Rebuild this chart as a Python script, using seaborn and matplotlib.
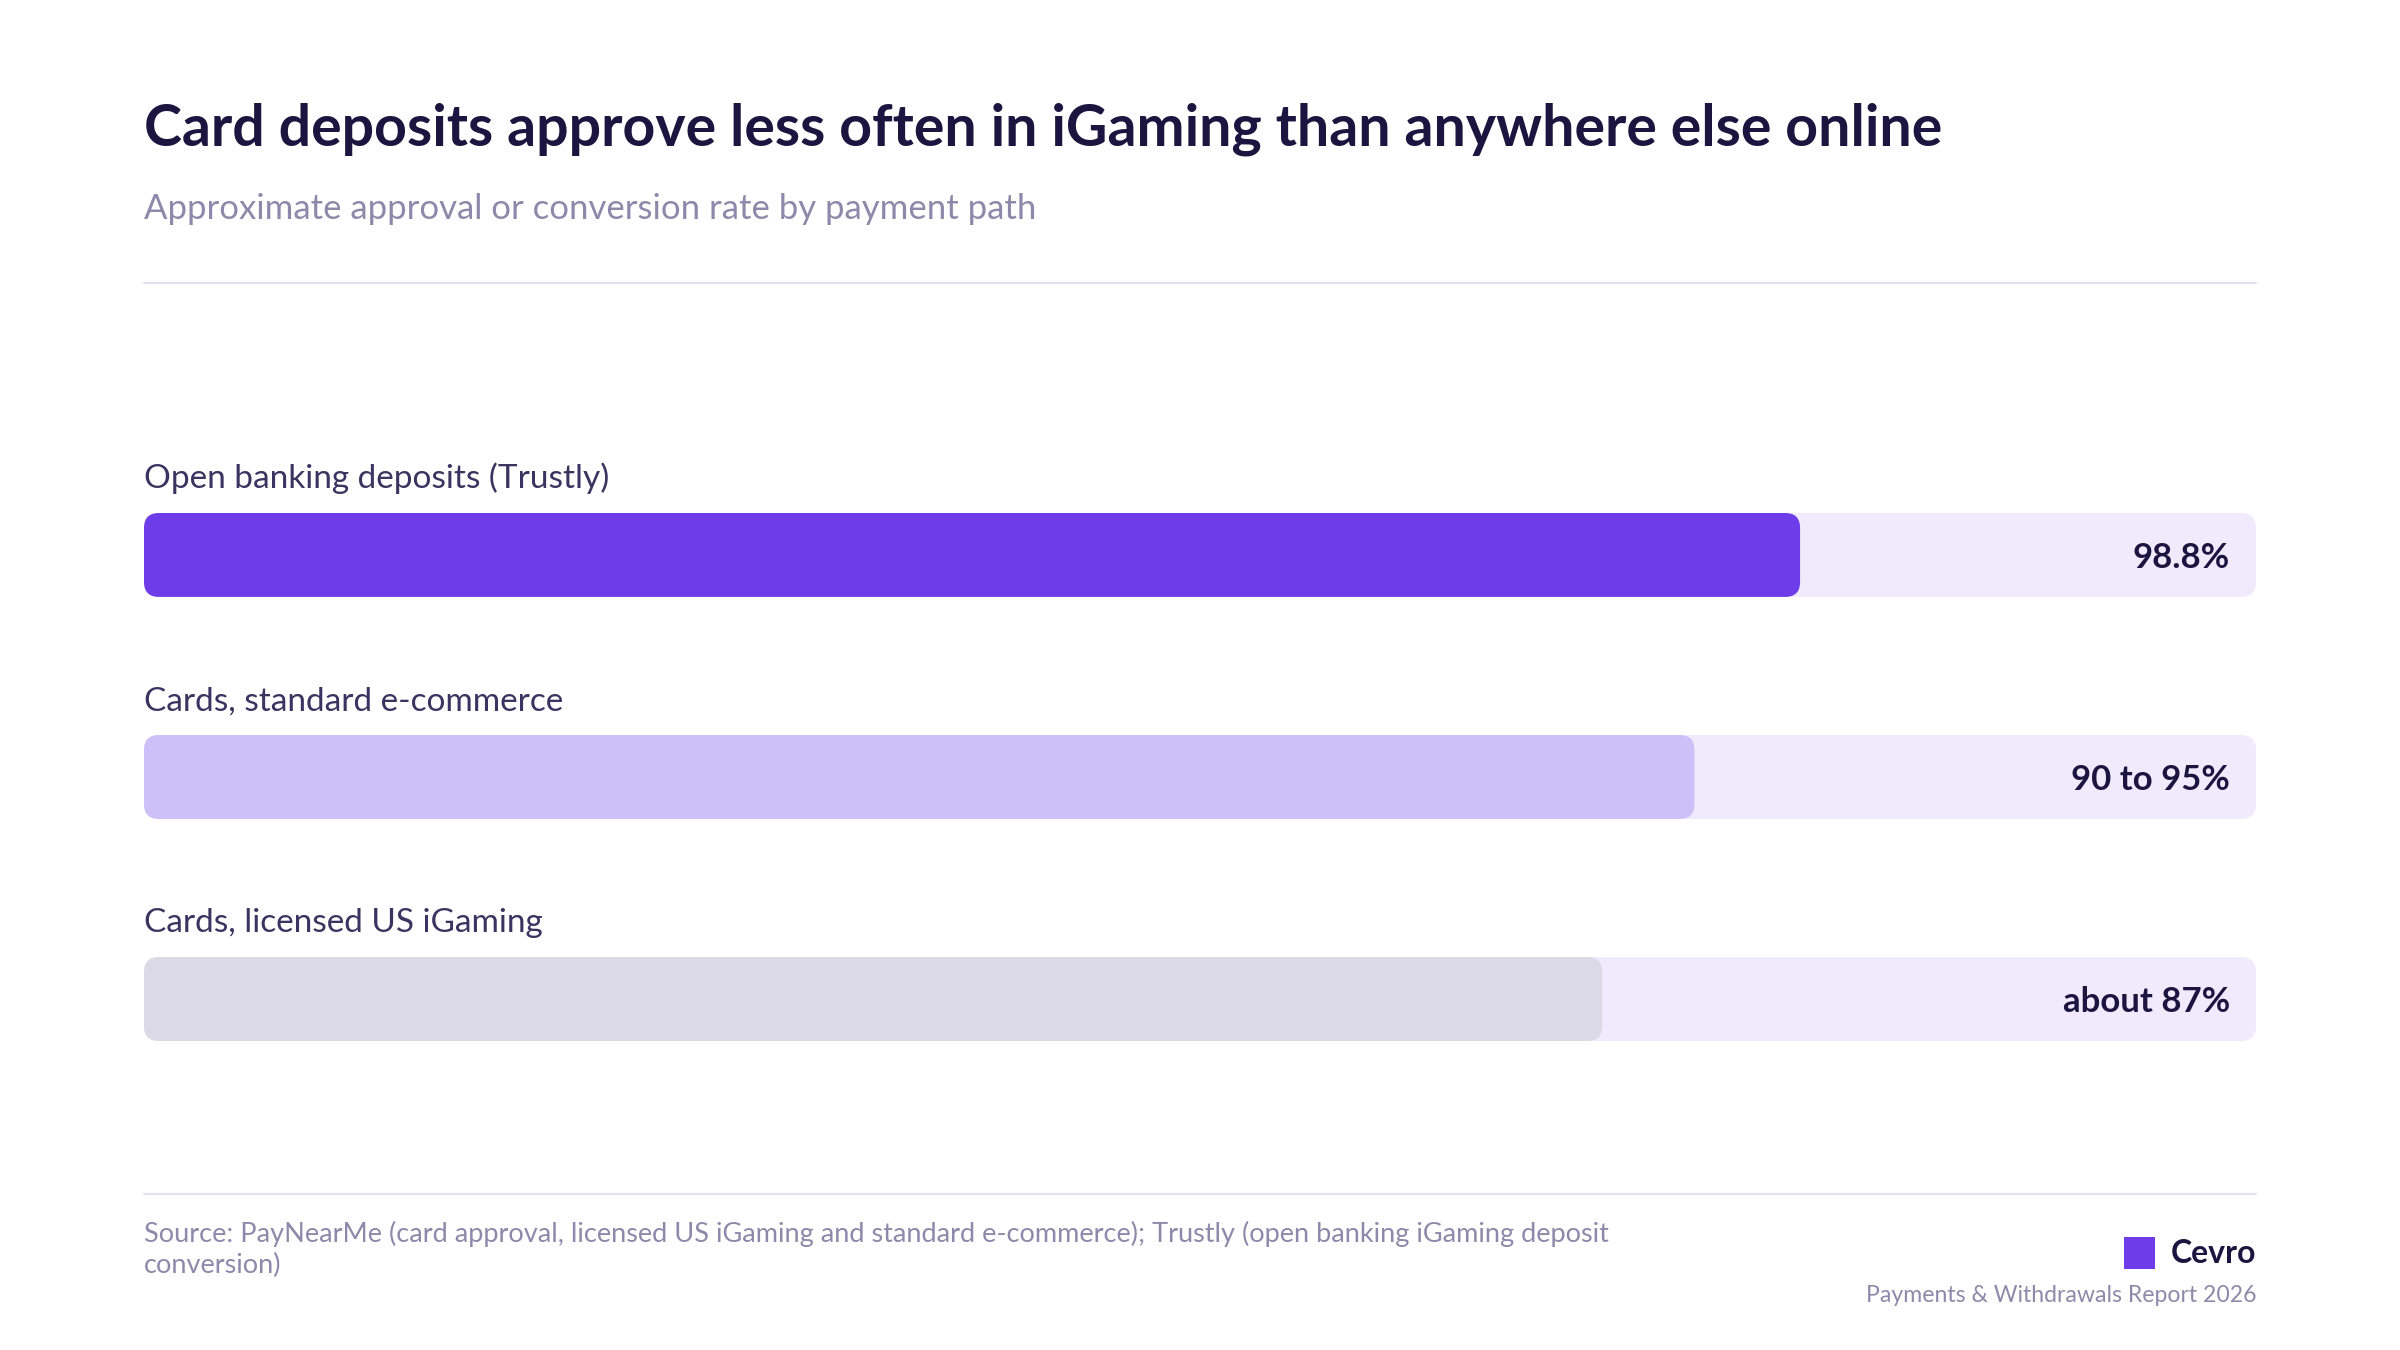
import matplotlib
matplotlib.use("Agg")
import matplotlib.pyplot as plt
import seaborn as sns
import pandas as pd
from matplotlib.patches import FancyBboxPatch, Rectangle
from matplotlib.lines import Line2D

# ---- data ----
categories = ["Open banking deposits (Trustly)", "Cards, standard e-commerce", "Cards, licensed US iGaming"]
values = [98.8, 92.5, 87.0]
value_labels = ["98.8%", "90 to 95%", "about 87%"]
scale_max = 126.0

title = "Card deposits approve less often in iGaming than anywhere else online"
subtitle = "Approximate approval or conversion rate by payment path"
source = ("Source: PayNearMe (card approval, licensed US iGaming and standard e-commerce); Trustly (open banking iGaming deposit\n"
          "conversion)")

fill_colors = ["#6e3ce9", "#cdbff7", "#dcd9e7"]
track_color = "#efebfc"
title_color = "#1c1540"
label_color = "#3b3360"
muted_color = "#8e89aa"
rule_color = "#e4e2ef"

sns.set_theme(style="white")
plt.rcParams["font.family"] = ["Lato", "DejaVu Sans"]

W, H, DPI = 2400, 1350, 200
fig = plt.figure(figsize=(W / DPI, H / DPI), dpi=DPI)
fig.patch.set_facecolor("white")

def fx(x):
    return x / W

def fy(y):
    return 1 - y / H

# axes geometry (pixels)
ax_l, ax_r, ax_t, ax_b = 144, 2256, 513, 1041
ax = fig.add_axes([fx(ax_l), fy(ax_b), (ax_r - ax_l) / W, (ax_b - ax_t) / H])
ax.set_facecolor("white")

bar_w = 0.378
df = pd.DataFrame({"cat": categories, "val": values, "track": [scale_max] * len(categories)})

sns.barplot(data=df, x="track", y="cat", orient="h", color=track_color, width=bar_w,
            ax=ax, saturation=1)
sns.barplot(data=df, x="val", y="cat", orient="h", hue="cat", palette=fill_colors,
            width=bar_w, ax=ax, saturation=1, legend=False)

ax.set_xlim(0, scale_max)
ax.set_ylim(len(categories) - 1 + bar_w / 2, -bar_w / 2)
ax.axis("off")

# round the bar corners
px_per_x = (ax_r - ax_l) / scale_max
px_per_y = (ax_b - ax_t) / (len(categories) - 1 + bar_w)
radius_px = 15
rx = radius_px / px_per_x
aspect = (radius_px / px_per_y) / rx
patches = [p for p in ax.patches if isinstance(p, Rectangle)]
for p in patches:
    x0, y0 = p.get_x(), p.get_y()
    w, h = p.get_width(), p.get_height()
    fc = p.get_facecolor()
    z = p.get_zorder()
    p.remove()
    fb = FancyBboxPatch((x0, y0), w, h, boxstyle=f"round,pad=0,rounding_size={rx}",
                        mutation_aspect=aspect, facecolor=fc, edgecolor="none",
                        zorder=z, linewidth=0)
    ax.add_patch(fb)

# category labels above bars, value labels inside track
for i, (cat, lab) in enumerate(zip(categories, value_labels)):
    ax.annotate(cat, xy=(0, i - bar_w / 2), xytext=(0, 9.0), textcoords="offset points",
                ha="left", va="baseline", fontsize=12, color=label_color)
    ax.annotate(lab, xy=(scale_max, i), xytext=(-9.4, 0), textcoords="offset points",
                ha="right", va="center_baseline", fontsize=12.5, fontweight="bold",
                color=title_color)

# header
fig.text(fx(144), fy(145), title, ha="left", va="baseline", fontsize=20.6,
         fontweight="bold", color=title_color)
fig.text(fx(144), fy(219), subtitle, ha="left", va="baseline", fontsize=12.5,
         color=muted_color)

# rules
for yy in (283, 1194):
    fig.add_artist(Line2D([fx(144), fx(2256)], [fy(yy), fy(yy)], color=rule_color, lw=0.8))

# footer
fig.text(fx(144), fy(1221), source, ha="left", va="top", fontsize=9.75,
         color=muted_color, linespacing=1.3)
fig.add_artist(Rectangle((fx(2124), fy(1269)), (2155 - 2124) / W, (1269 - 1237) / H,
                         facecolor=fill_colors[0], edgecolor="none"))
fig.text(fx(2256), fy(1251), "Cevro", ha="right", va="center_baseline", fontsize=11.5,
         fontweight="bold", color=title_color)
fig.text(fx(2256), fy(1294), "Payments & Withdrawals Report 2026", ha="right",
         va="center_baseline", fontsize=8.3, color=muted_color)

fig.savefig("out.png", dpi=DPI, facecolor="white")
